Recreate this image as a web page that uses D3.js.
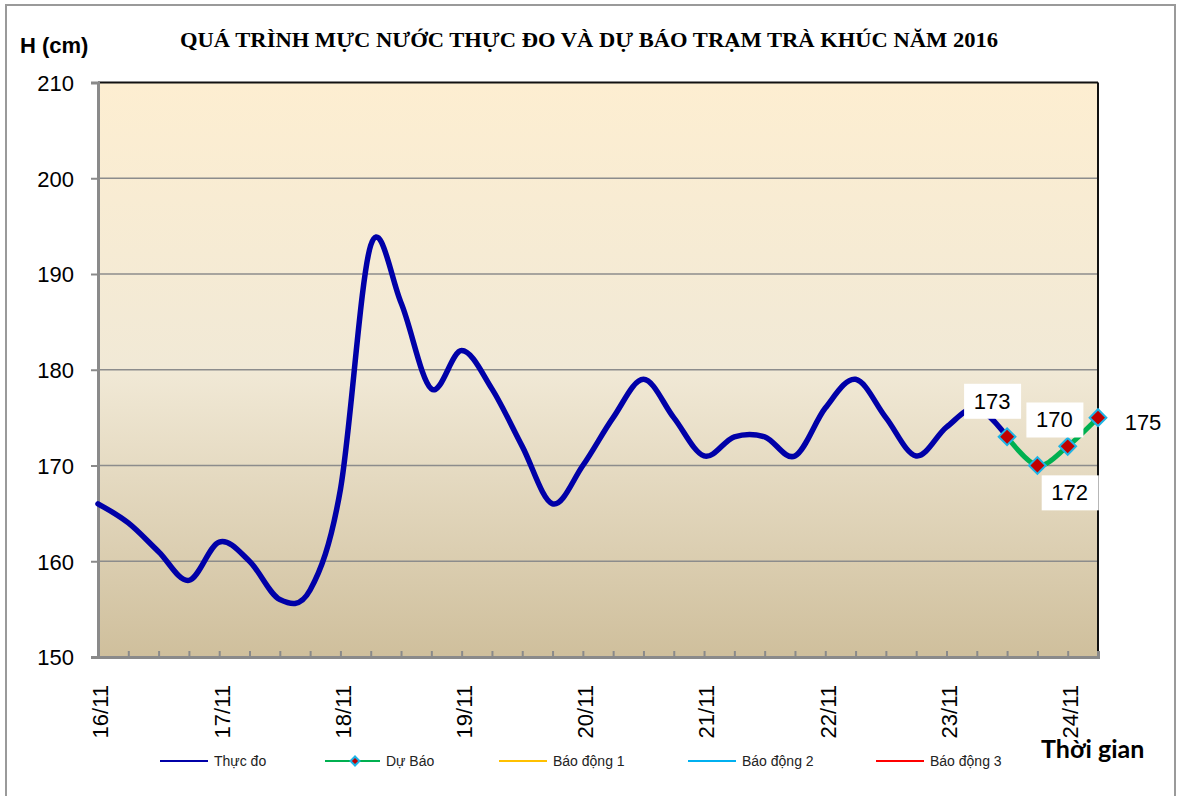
<!DOCTYPE html>
<html>
<head>
<meta charset="utf-8">
<script src="https://cdn.jsdelivr.net/npm/d3@7"></script>
<style>
html,body{margin:0;padding:0;background:#fff;}
svg{display:block;}
</style>
</head>
<body>
<svg id="chart" width="1179" height="796"></svg>
<script>
// ---------- DATA ----------
const categories = [
  "16/11","","","","17/11","","","","18/11","","","","19/11","","","",
  "20/11","","","","21/11","","","","22/11","","","","23/11","","","","24/11",""
];
const observed = [ // Thực đo (index 0..30)
  166,164,161,158,162,160,156,157,167.5,193,187,178,182,178,172,166,
  170,175,179,175,171,173,173,171,176,179,175,171,174,176,173
];
const forecastStart = 30;
const forecast = [173,170,172,175]; // Dự Báo (index 30..33)
const forecastLabels = ["173","170","172","175"];
const yTicks = [150,160,170,180,190,200,210];
const legendNames = ["Thực đo","Dự Báo","Báo động 1","Báo động 2","Báo động 3"];
const legendColors = ["#0000A8","#00B050","#FFC000","#00B0F0","#FF0000"];

// ---------- LAYOUT ----------
const W = 1179, H = 796;
const plot = {left: 98, right: 1098, top: 82.5, bottom: 657};
const labelOffsets = [[-15,-36],[17,-46],[2,46],[45,4]];
const legendX = [160, 325, 499, 688, 876];

const svg = d3.select("#chart");

// outer border
svg.append("rect").attr("x",6).attr("y",5).attr("width",1169).attr("height",800)
  .attr("fill","#fff").attr("stroke","#9a9a9a").attr("stroke-width",2);

const x = d3.scalePoint().domain(d3.range(categories.length)).range([plot.left, plot.right]);
const y = d3.scaleLinear().domain([150,210]).range([plot.bottom, plot.top]);

// gradient background
const defs = svg.append("defs");
const grad = defs.append("linearGradient").attr("id","bg").attr("x1",0).attr("y1",0).attr("x2",0).attr("y2",1);
grad.append("stop").attr("offset","0%").attr("stop-color","#FDEED1");
grad.append("stop").attr("offset","50%").attr("stop-color","#F1E9D6");
grad.append("stop").attr("offset","100%").attr("stop-color","#CFBF9C");

svg.append("rect").attr("x",plot.left).attr("y",plot.top)
  .attr("width",plot.right-plot.left).attr("height",plot.bottom-plot.top)
  .attr("fill","url(#bg)");

// gridlines
svg.append("g").selectAll("line").data(yTicks.filter(v=>v>150 && v<210)).join("line")
  .attr("x1",plot.left).attr("x2",plot.right)
  .attr("y1",d=>y(d)).attr("y2",d=>y(d))
  .attr("stroke","#8c8c8c").attr("stroke-width",1.6);

// plot borders (top & right dark)
svg.append("line").attr("x1",plot.left).attr("x2",plot.right).attr("y1",plot.top).attr("y2",plot.top)
  .attr("stroke","#111").attr("stroke-width",2);
svg.append("line").attr("x1",plot.right).attr("x2",plot.right).attr("y1",plot.top).attr("y2",plot.bottom)
  .attr("stroke","#111").attr("stroke-width",2);

// y axis
const yAxis = d3.axisLeft(y).tickValues(yTicks).tickSize(7).tickPadding(17).tickFormat(d3.format("d"));
const gy = svg.append("g").attr("transform",`translate(${plot.left},0)`).call(yAxis);
gy.select(".domain").attr("stroke","#8a8a8a").attr("stroke-width",3);
gy.selectAll(".tick line").attr("stroke","#8a8a8a").attr("stroke-width",2);
gy.selectAll(".tick text").attr("font-family","'Liberation Sans', Arial, sans-serif")
  .attr("font-size",22).attr("fill","#000").attr("dy","0.36em");

// x axis (ticks inward)
const xAxis = d3.axisBottom(x).tickValues(d3.range(categories.length)).tickSize(-6).tickFormat(i=>categories[i]);
const gx = svg.append("g").attr("transform",`translate(0,${plot.bottom})`).call(xAxis);
gx.select(".domain").attr("stroke","#8a8a8a").attr("stroke-width",3);
gx.selectAll(".tick line").attr("stroke","#8a8a8a").attr("stroke-width",2);
gx.selectAll(".tick text")
  .attr("font-family","'Liberation Sans', Arial, sans-serif").attr("font-size",22).attr("fill","#000")
  .attr("text-anchor","end").attr("y",0).attr("dy","0.36em")
  .attr("transform","translate(2,28) rotate(-90)");

// lines
const line = d3.line().x(d=>x(d.i)).y(d=>y(d.v)).curve(d3.curveCatmullRom.alpha(0));
const obsData = observed.map((v,i)=>({i, v}));
const fcData = forecast.map((v,k)=>({i: forecastStart+k, v}));

svg.append("path").datum(obsData).attr("d",line)
  .attr("fill","none").attr("stroke","#0000A8").attr("stroke-width",5.5)
  .attr("stroke-linejoin","round").attr("stroke-linecap","round");
svg.append("path").datum(fcData).attr("d",line)
  .attr("fill","none").attr("stroke","#00B050").attr("stroke-width",5)
  .attr("stroke-linejoin","round").attr("stroke-linecap","round");

// markers
svg.append("g").selectAll("path").data(fcData).join("path")
  .attr("d", d3.symbol().type(d3.symbolSquare).size(140))
  .attr("transform",d=>`translate(${x(d.i)},${y(d.v)}) rotate(45)`)
  .attr("fill","#C00000").attr("stroke","#1EB4E6").attr("stroke-width",2);

// data labels
const lbl = svg.append("g").selectAll("g").data(fcData).join("g")
  .attr("transform",(d,k)=>`translate(${x(d.i)+labelOffsets[k][0]},${y(d.v)+labelOffsets[k][1]})`);
lbl.filter((d,k)=>k<3).append("rect").attr("x",-28).attr("y",-17).attr("width",57).attr("height",35).attr("fill","#fff");
lbl.append("text").text((d,k)=>forecastLabels[k])
  .attr("text-anchor","middle").attr("dy","0.36em")
  .attr("font-family","'Liberation Sans', Arial, sans-serif").attr("font-size",22).attr("fill","#000");

// title
svg.append("text").attr("x",589).attr("y",47).attr("text-anchor","middle")
  .attr("font-family","'Liberation Serif','Times New Roman',serif").attr("font-weight","bold")
  .attr("font-size",20).attr("textLength",818).attr("lengthAdjust","spacingAndGlyphs")
  .text("QUÁ TRÌNH MỰC NƯỚC THỰC ĐO VÀ DỰ BÁO TRẠM TRÀ KHÚC NĂM 2016");

// y axis title
svg.append("text").attr("x",20).attr("y",53)
  .attr("font-family","'Liberation Sans', Arial, sans-serif").attr("font-weight","bold")
  .attr("font-size",22).attr("fill","#000").text("H (cm)");

// x axis title
svg.append("text").attr("x",1041).attr("y",758)
  .attr("font-family","Lato, 'Open Sans', sans-serif").attr("font-weight","bold")
  .attr("font-size",25).attr("fill","#000").text("Thời gian");

// legend
const lg = svg.append("g").selectAll("g").data(legendNames).join("g")
  .attr("transform",(d,k)=>`translate(${legendX[k]},761)`);
lg.append("line").attr("x1",0).attr("x2",(d,k)=>k===1?55:48).attr("y1",0).attr("y2",0)
  .attr("stroke",(d,k)=>legendColors[k]).attr("stroke-width",2);
lg.filter((d,k)=>k===1).append("path")
  .attr("d", d3.symbol().type(d3.symbolSquare).size(40))
  .attr("transform","translate(30,0) rotate(45)")
  .attr("fill","#C00000").attr("stroke","#1EB4E6").attr("stroke-width",2);
lg.append("text").attr("x",(d,k)=>k===1?61:54).attr("dy","0.36em")
  .attr("font-family","'Liberation Sans', Arial, sans-serif").attr("font-size",14).attr("fill","#222")
  .text(d=>d);
</script>
</body>
</html>
